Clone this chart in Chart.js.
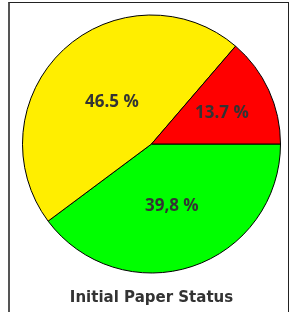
<!DOCTYPE html>
<html>
<head>
<meta charset="utf-8">
<script src="https://cdn.jsdelivr.net/npm/chart.js@4"></script>
<style>
  body { margin: 0; background: #fff; }
  #wrap { position: relative; width: 291px; height: 312px; }
  #frame {
    position: absolute; left: 8px; top: 2px; width: 281px; height: 320px;
    border: 1px solid #222; border-left: 2px solid #555; box-sizing: border-box;
  }
  canvas { position: absolute; left: 0; top: 0; }
</style>
</head>
<body>
<div id="wrap">
  <div id="frame"></div>
  <canvas id="pie" width="291" height="312"></canvas>
</div>
<script>
const categories = ["Green", "Yellow", "Red"];
const values = [39.8, 46.5, 13.7];
const valueLabels = ["39,8 %", "46.5 %", "13.7 %"];
const colors = ["#00ff00", "#ffee00", "#ff0000"];
const labelRadius = [0.5, 0.45, 0.6];

const sliceLabels = {
  id: "sliceLabels",
  afterDatasetsDraw(chart) {
    const ctx = chart.ctx;
    const meta = chart.getDatasetMeta(0);
    ctx.save();
    ctx.font = "bold 17px 'Open Sans'";
    ctx.fillStyle = "#333";
    ctx.textAlign = "center";
    ctx.textBaseline = "middle";
    meta.data.forEach((arc, i) => {
      const p = arc.getProps(["x", "y", "startAngle", "endAngle", "outerRadius"], true);
      const mid = (p.startAngle + p.endAngle) / 2;
      const r = p.outerRadius * labelRadius[i];
      ctx.fillText(valueLabels[i], p.x + Math.cos(mid) * r, p.y + Math.sin(mid) * r + 1);
    });
    ctx.restore();
  }
};

new Chart(document.getElementById("pie").getContext("2d"), {
  type: "pie",
  data: {
    labels: categories,
    datasets: [{
      data: values,
      backgroundColor: colors,
      borderColor: "#000",
      borderWidth: 1
    }]
  },
  options: {
    responsive: false,
    animation: false,
    rotation: 90,
    layout: { padding: { top: 13, left: 22, right: 10, bottom: 5 } },
    plugins: {
      legend: { display: false },
      tooltip: { enabled: false },
      title: {
        display: true,
        position: "bottom",
        text: "Initial Paper Status",
        color: "#333",
        font: { family: "'DejaVu Sans'", size: 15, weight: "bold" },
        padding: { top: 14, bottom: 0 }
      }
    }
  },
  plugins: [sliceLabels]
});
</script>
</body>
</html>
